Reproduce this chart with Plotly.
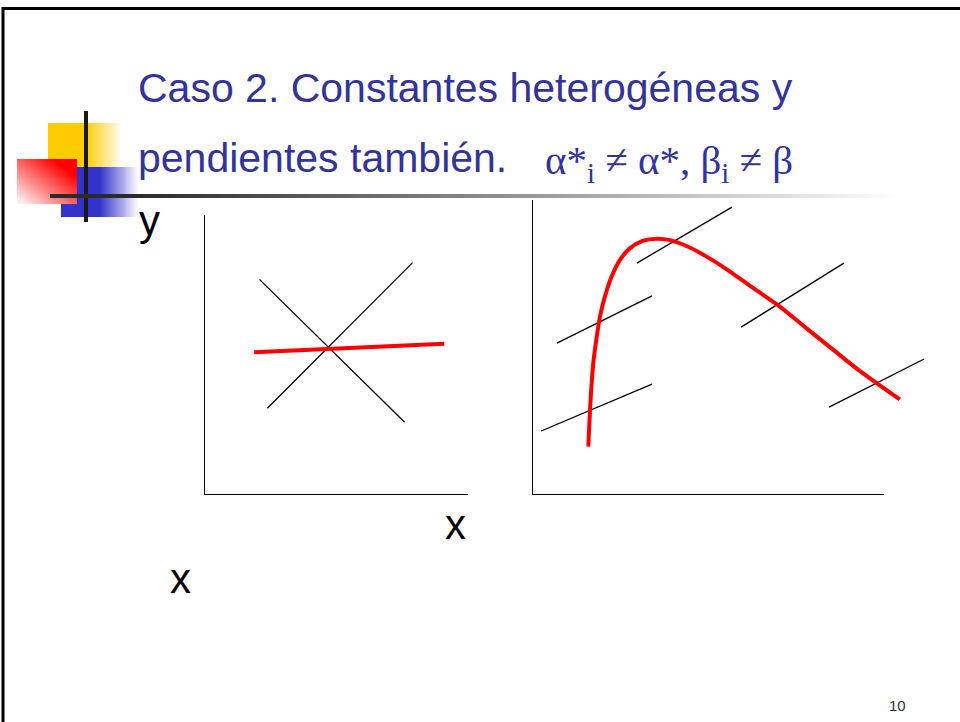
import plotly.graph_objects as go

W, H = 960, 722

# left sketch: common slope for all units, red pooled line
left_black_a_x = [2.1, 7.6]
left_black_a_y = [7.7, 2.6]
left_black_b_x = [2.4, 7.9]
left_black_b_y = [3.1, 8.3]
left_red_x = [1.9, 9.1]
left_red_y = [5.1, 5.4]

# right sketch: parallel unit lines (x0, y0, x1, y1)
right_seg_x0 = [0.26, 0.71, 2.98, 5.94, 8.44]
right_seg_y0 = [2.17, 5.15, 7.86, 5.69, 2.98]
right_seg_x1 = [3.41, 3.41, 5.68, 8.86, 11.14]
right_seg_y1 = [3.76, 6.75, 9.76, 7.86, 4.61]

right_red_x = [1.60, 1.63, 1.67, 1.74, 1.84, 1.93, 2.07, 2.26, 2.50, 2.78, 3.16,
               3.54, 3.92, 4.39, 4.96, 5.53, 6.29, 7.05, 7.80, 8.56, 9.32, 10.45]
right_red_y = [1.64, 2.43, 3.33, 4.46, 5.37, 6.04, 6.72, 7.40, 7.97, 8.36, 8.62,
               8.69, 8.64, 8.44, 8.08, 7.65, 7.01, 6.38, 5.65, 4.92, 4.20, 3.24]

title_1 = "Caso 2. Constantes heterogéneas y"
title_2 = "pendientes también."
title_math = "α*<sub>i</sub> ≠ α*, β<sub>i</sub> ≠ β"
page_no = "10"

TITLE_COLOR = "#333399"


def px_x(v):
    return v / W


def px_y(v):
    return 1 - v / H


fig = go.Figure()


# ---- decorative logo (pixel overlay axis x3/y3) ----
def grad_box(x0, x1, y0, y1, fz, colorscale, n=40, m=20):
    # fz(u, v) -> 0..1, u left->right, v top->bottom
    dx = (x1 - x0) / n
    dy = (y1 - y0) / m
    xs = [x0 + dx * (i + 0.5) for i in range(n)]
    ys = [y0 + dy * (j + 0.5) for j in range(m)]
    z = [[fz((i + 0.5) / n, (j + 0.5) / m) for i in range(n)] for j in range(m)]
    fig.add_trace(go.Heatmap(
        x=xs, y=ys, z=z, colorscale=colorscale, showscale=False,
        zsmooth='best', hoverinfo='skip', xaxis='x3', yaxis='y3',
        zmin=0, zmax=1
    ))


def fade_right(solid):
    return lambda u, v: 1.0 if u <= solid else max(0.0, 1 - (u - solid) / (1 - solid))


# yellow: solid then fading to the right
grad_box(48, 122, 123, 168, fade_right(0.5), [[0, '#ffffff'], [1, '#ffcc00']], m=2)
# blue: solid then fading to the right
grad_box(61, 138, 167, 217, fade_right(0.5), [[0, '#ffffff'], [1, '#3333cc']], m=2)
# red: diagonal fade, strong at top-right
grad_box(17, 77, 159, 204, lambda u, v: max(0.0, min(1.0, (u + 1 - v) / 1.6)),
         [[0, '#ffffff'], [1, '#ff0000']])
# title underline: dark to white
grad_box(50, 900, 194, 198, lambda u, v: 1.0 if u < 0.1 else max(0.0, 1 - (u - 0.1) / 0.9),
         [[0, '#ffffff'], [1, '#2a2a2a']], n=80, m=2)

# ---- left sketch ----
for xs, ys in [(left_black_a_x, left_black_a_y), (left_black_b_x, left_black_b_y)]:
    fig.add_trace(go.Scatter(x=xs, y=ys, mode='lines', line=dict(color='black', width=1.3),
                             xaxis='x', yaxis='y', hoverinfo='skip'))
fig.add_trace(go.Scatter(x=left_red_x, y=left_red_y, mode='lines',
                         line=dict(color='#ff0000', width=4), xaxis='x', yaxis='y'))

# ---- right sketch ----
for a, b, c, d in zip(right_seg_x0, right_seg_y0, right_seg_x1, right_seg_y1):
    fig.add_trace(go.Scatter(x=[a, c], y=[b, d], mode='lines', line=dict(color='black', width=1.3),
                             xaxis='x2', yaxis='y2', hoverinfo='skip'))
fig.add_trace(go.Scatter(x=right_red_x, y=right_red_y, mode='lines',
                         line=dict(color='#ff0000', width=4, shape='spline', smoothing=0.8),
                         xaxis='x2', yaxis='y2'))

shapes = [
    # sketch axes
    dict(type='line', xref='x', yref='y', x0=0, y0=0, x1=0, y1=10, line=dict(color='black', width=2)),
    dict(type='line', xref='x', yref='y', x0=0, y0=0, x1=10, y1=0, line=dict(color='black', width=2)),
    dict(type='line', xref='x2', yref='y2', x0=0, y0=0, x1=0, y1=10, line=dict(color='black', width=2)),
    dict(type='line', xref='x2', yref='y2', x0=0, y0=0, x1=10, y1=0, line=dict(color='black', width=2)),
    # logo cross
    dict(type='line', xref='x3', yref='y3', x0=86, y0=111, x1=86, y1=222,
         line=dict(color='#1a1a1a', width=4), layer='above'),
    dict(type='line', xref='x3', yref='y3', x0=50, y0=196, x1=120, y1=196,
         line=dict(color='#2a2a2a', width=4), layer='above'),
    # slide frame
    dict(type='line', xref='x3', yref='y3', x0=2, y0=8.5, x1=960, y1=8.5,
         line=dict(color='black', width=3)),
    dict(type='line', xref='x3', yref='y3', x0=3, y0=7, x1=3, y1=722,
         line=dict(color='black', width=3)),
]

annotations = [
    dict(text=title_1, x=136, y=88, xref='x3', yref='y3', xanchor='left', yanchor='middle',
         showarrow=False, font=dict(family='Liberation Sans', size=41, color=TITLE_COLOR)),
    dict(text=title_2, x=136, y=158, xref='x3', yref='y3', xanchor='left', yanchor='middle',
         showarrow=False, font=dict(family='Liberation Sans', size=41, color=TITLE_COLOR)),
    dict(text=title_math, x=543, y=163, xref='x3', yref='y3', xanchor='left', yanchor='middle',
         showarrow=False, font=dict(family='Liberation Serif', size=41, color=TITLE_COLOR)),
    dict(text='y', x=137, y=220, xref='x3', yref='y3', xanchor='left', yanchor='middle',
         showarrow=False, font=dict(family='Liberation Sans', size=42, color='black')),
    dict(text='x', x=443, y=524, xref='x3', yref='y3', xanchor='left', yanchor='middle',
         showarrow=False, font=dict(family='Liberation Sans', size=42, color='black')),
    dict(text='x', x=168, y=578, xref='x3', yref='y3', xanchor='left', yanchor='middle',
         showarrow=False, font=dict(family='Liberation Sans', size=42, color='black')),
    dict(text=page_no, x=897, y=705, xref='x3', yref='y3', xanchor='center', yanchor='middle',
         showarrow=False, font=dict(family='Liberation Sans', size=15, color='#333333')),
]

hidden = dict(visible=False, showgrid=False, zeroline=False, fixedrange=True)

fig.update_layout(
    width=W, height=H,
    margin=dict(l=0, r=0, t=0, b=0),
    paper_bgcolor='white',
    plot_bgcolor='rgba(0,0,0,0)',
    showlegend=False,
    shapes=shapes,
    annotations=annotations,
    xaxis=dict(domain=[px_x(204), px_x(468)], range=[0, 10], **hidden),
    yaxis=dict(domain=[px_y(495), px_y(215)], range=[0, 10], **hidden),
    xaxis2=dict(domain=[px_x(532), px_x(532 + 11.6 * 35.2)], range=[0, 11.6], anchor='y2', **hidden),
    yaxis2=dict(domain=[px_y(495), px_y(495 - 10.2 * 29.5)], range=[0, 10.2], anchor='x2', **hidden),
    xaxis3=dict(domain=[0, 1], range=[0, W], anchor='y3', **hidden),
    yaxis3=dict(domain=[0, 1], range=[H, 0], anchor='x3', **hidden),
)

# page margin would shift the slide by 8px
fig.write_html("out.html", config={'displayModeBar': False},
               post_script="document.body.style.margin='0px';")
